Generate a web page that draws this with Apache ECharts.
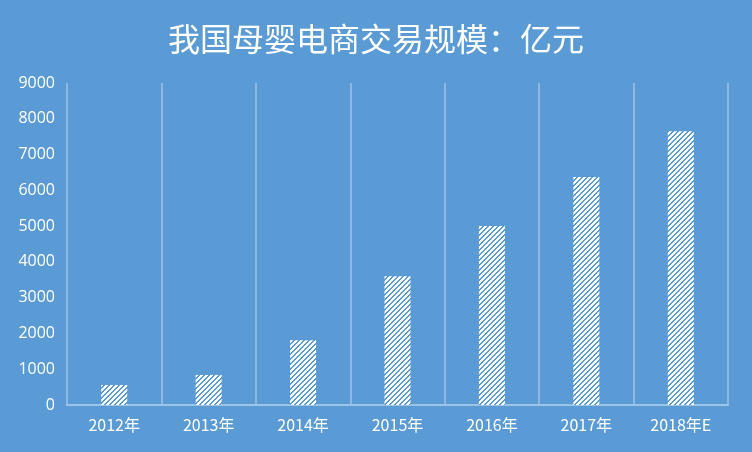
<!DOCTYPE html>
<html>
<head>
<meta charset="utf-8">
<script src="https://cdn.jsdelivr.net/npm/echarts@6/dist/echarts.min.js"></script>
<style>
	html, body { margin: 0; padding: 0; background: #5b9bd5; }
	#chart { width: 752px; height: 452px; }
</style>
</head>
<body>
<div id="chart"></div>
<script>
// 数据
var titleText = '我国母婴电商交易规模：亿元';
var categories = ['2012年', '2013年', '2014年', '2015年', '2016年', '2017年', '2018年E'];
var values = [560, 840, 1810, 3600, 5000, 6370, 7650];
var yTicks = [0, 1000, 2000, 3000, 4000, 5000, 6000, 7000, 8000, 9000];

// 斜线填充图案
function makeHatch() {
	var n = 5;
	var c = document.createElement('canvas');
	c.width = n;
	c.height = n;
	var ctx = c.getContext('2d');
	ctx.fillStyle = '#ffffff';
	ctx.fillRect(0, 0, n, n);
	ctx.fillStyle = '#5b9bd5';
	for (var x = 0; x < n; x++) {
		for (var y = 0; y < n; y++) {
			var k = (x + y) % n;
			if (k === 3 || k === 4) ctx.fillRect(x, y, 1, 1);
		}
	}
	return c;
}

var myChart = echarts.init(document.getElementById('chart'), null, { devicePixelRatio: 1 });
var option = {
	backgroundColor: '#5b9bd5',
	animation: false,
	title: {
		text: titleText,
		left: 'center',
		top: 18,
		textStyle: {
			color: '#fff',
			fontSize: 32,
			fontWeight: 'normal',
			fontFamily: 'Noto Sans CJK SC'
		}
	},
	grid: {
		left: 67,
		right: 24,
		top: 83,
		bottom: 47
	},
	xAxis: {
		type: 'category',
		data: categories,
		axisTick: { show: false },
		axisLine: {
			lineStyle: { color: '#9dc3e6', width: 2 }
		},
		axisLabel: {
			color: '#fff',
			fontSize: 16,
			margin: 12,
			fontFamily: 'Noto Sans CJK SC'
		},
		splitLine: {
			show: true,
			interval: 0,
			lineStyle: { color: 'rgba(255,255,255,0.3)', width: 2 }
		}
	},
	yAxis: {
		type: 'value',
		min: yTicks[0],
		max: yTicks[yTicks.length - 1],
		interval: 1000,
		axisLine: { show: false },
		axisTick: { show: false },
		splitLine: { show: false },
		axisLabel: {
			color: '#fff',
			fontSize: 16,
			margin: 12,
			fontFamily: 'Open Sans',
			formatter: function (v) { return String(v); }
		}
	},
	series: [{
		type: 'bar',
		data: values,
		barWidth: 26,
		itemStyle: {
			color: { image: makeHatch(), repeat: 'repeat' }
		}
	}]
};
myChart.setOption(option);
</script>
</body>
</html>
